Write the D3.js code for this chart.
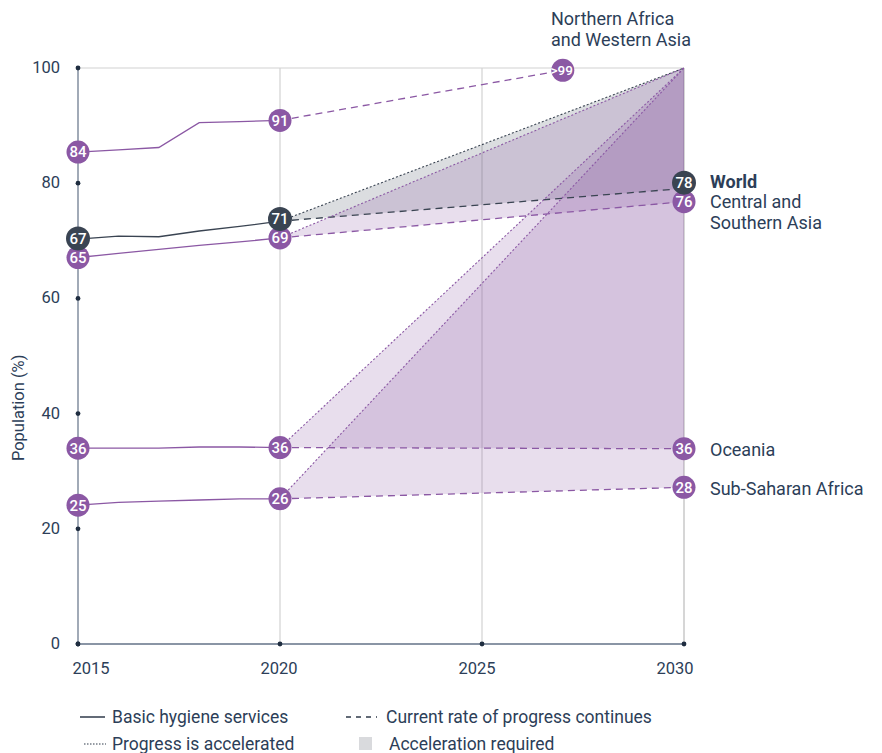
<!DOCTYPE html>
<html><head><meta charset="utf-8">
<script src="https://cdn.jsdelivr.net/npm/d3@7"></script>
<style>
body{margin:0;background:#fff;}
text{font-family:Roboto,"Noto Sans",sans-serif;}
</style></head>
<body><div id="chart"></div>
<script>
// ---------- data ----------
const years = [2015, 2016, 2017, 2018, 2019, 2020];
const world   = [70.3, 70.8, 70.7, 71.7, 72.5, 73.4];
const csAsia  = [67.1, 67.8, 68.5, 69.2, 69.8, 70.5];
const nawa    = [85.4, 85.8, 86.2, 90.5, 90.7, 90.9];
const oceania = [34.0, 34.0, 34.0, 34.2, 34.2, 34.1];
const ssa     = [24.1, 24.6, 24.8, 25.0, 25.2, 25.2];

const projYear   = [2030, 2030, 2027, 2030, 2030];      // end year of current-rate projection
const projValue  = [79.1, 76.8, 99.6, 33.9, 27.2];      // current rate of progress continues
const accelTarget = 100;                                 // accelerated target in 2030
const seriesNames = ["World", "Central and Southern Asia", "Northern Africa and Western Asia", "Oceania", "Sub-Saharan Africa"];
const labelsWorld   = ["67", "71", "78"];
const labelsCSAsia  = ["65", "69", "76"];
const labelsNAWA    = ["84", "91", ">99"];
const labelsOceania = ["36", "36", "36"];
const labelsSSA     = ["25", "26", "28"];
const xTicks = [2015, 2020, 2025, 2030];
const yTicks = [0, 20, 40, 60, 80, 100];
const legendItems = ["Basic hygiene services", "Current rate of progress continues", "Progress is accelerated", "Acceleration required"];

// ---------- setup ----------
const W = 882, H = 753;
const PURPLE = "#8b58a4", DARK = "#3a4452", TXT = "#2c3e58", GRID = "#d2d2d2";
const series = [
  {name: seriesNames[0], vals: world,   labels: labelsWorld,   color: DARK,   fill: DARK,   fo: 0.18, accel: true, r: 12},
  {name: seriesNames[1], vals: csAsia,  labels: labelsCSAsia,  color: PURPLE, fill: PURPLE, fo: 0.2,  accel: true, r: 11.5},
  {name: seriesNames[2], vals: nawa,    labels: labelsNAWA,    color: PURPLE, fill: PURPLE, fo: 0.2,  accel: false, r: 11.5},
  {name: seriesNames[3], vals: oceania, labels: labelsOceania, color: PURPLE, fill: PURPLE, fo: 0.2,  accel: true, r: 11.5},
  {name: seriesNames[4], vals: ssa,     labels: labelsSSA,     color: PURPLE, fill: PURPLE, fo: 0.2,  accel: true, r: 11.5}
];
series.forEach((s, i) => { s.pYear = projYear[i]; s.pVal = projValue[i]; });

const svg = d3.select("#chart").append("svg").attr("width", W).attr("height", H);
const x = d3.scaleLinear().domain([2015, 2030]).range([78, 684]);
const y = d3.scaleLinear().domain([0, 100]).range([644, 68]);
const last = years.length - 1;

// grid
svg.append("line").attr("x1", x(2015)).attr("x2", x(2030)).attr("y1", y(100)).attr("y2", y(100))
  .attr("stroke", GRID).attr("stroke-width", 1.2);
xTicks.slice(1).forEach(t => {
  svg.append("line").attr("x1", x(t)).attr("x2", x(t)).attr("y1", y(100)).attr("y2", y(0))
    .attr("stroke", GRID).attr("stroke-width", t === 2030 ? 1.8 : 1.2);
});

// fills (acceleration required)
const gFill = svg.append("g");
[0, 1, 3, 4].forEach(i => {
  const s = series[i];
  if (!s.accel) return;
  const pts = [[x(2020), y(s.vals[last])], [x(2030), y(accelTarget)], [x(s.pYear), y(s.pVal)]];
  gFill.append("path").attr("d", "M" + pts.join("L") + "Z").attr("fill", s.fill).attr("fill-opacity", s.fo);
});

// projection lines
const gProj = svg.append("g");
series.forEach(s => {
  gProj.append("line").attr("x1", x(2020)).attr("y1", y(s.vals[last])).attr("x2", x(s.pYear)).attr("y2", y(s.pVal))
    .attr("stroke", s.color).attr("stroke-width", 1.3).attr("stroke-dasharray", "7,5");
  if (s.accel) {
    gProj.append("line").attr("x1", x(2020)).attr("y1", y(s.vals[last])).attr("x2", x(2030)).attr("y2", y(accelTarget))
      .attr("stroke", s.color).attr("stroke-width", 1.1).attr("stroke-dasharray", "2,2");
  }
});

// historical lines
const line = d3.line().x((d, i) => x(years[i])).y(d => y(d));
series.forEach(s => {
  svg.append("path").attr("d", line(s.vals)).attr("fill", "none").attr("stroke", s.color).attr("stroke-width", 1.3);
});

// axes
const yAxisG = svg.append("g");
yAxisG.append("line").attr("x1", x(2015)).attr("x2", x(2015)).attr("y1", y(100)).attr("y2", y(0))
  .attr("stroke", "#8a95a5").attr("stroke-width", 1.6);
yTicks.forEach(t => {
  yAxisG.append("circle").attr("cx", x(2015)).attr("cy", y(t)).attr("r", 2.4).attr("fill", "#1f2d40");
  yAxisG.append("text").attr("x", 60).attr("y", y(t)).attr("dy", "0.3em").attr("text-anchor", "end")
    .attr("font-size", 16.5).attr("fill", TXT).text(t);
});
const xAxisG = svg.append("g");
xAxisG.append("line").attr("x1", x(2015)).attr("x2", x(2030)).attr("y1", y(0)).attr("y2", y(0))
  .attr("stroke", "#8a95a5").attr("stroke-width", 2.2);
const xShift = [13, -1, -5, -9];
xTicks.forEach((t, i) => {
  xAxisG.append("circle").attr("cx", x(t)).attr("cy", y(0)).attr("r", 2.4).attr("fill", "#1f2d40");
  xAxisG.append("text").attr("x", x(t) + xShift[i]).attr("y", 674).attr("text-anchor", "middle")
    .attr("font-size", 16.5).attr("fill", TXT).text(t);
});
svg.append("text").attr("transform", `translate(24,${y(41)}) rotate(-90)`).attr("text-anchor", "middle")
  .attr("font-size", 16.5).attr("fill", TXT).text("Population (%)");

// value circles with simple vertical dodging
const marks = [];
series.forEach(s => {
  [[2015, s.vals[0], s.labels[0]], [2020, s.vals[last], s.labels[1]], [s.pYear, s.pVal, s.labels[2]]]
    .forEach(([yr, v, lab]) => marks.push({s, cx: x(yr), cy: y(v), lab}));
});
const groups = d3.group(marks, m => Math.round(m.cx));
groups.forEach(g => {
  g.sort((a, b) => b.cy - a.cy);
  for (let k = 1; k < g.length; k++) {
    if (g[k - 1].cy - g[k].cy < 19) g[k].cy = g[k - 1].cy - 19;
  }
});
const gMarks = svg.append("g");
marks.sort((a, b) => (a.s.color === DARK) - (b.s.color === DARK));
marks.forEach(m => {
  const wide = m.lab.startsWith(">");
  gMarks.append("circle").attr("cx", m.cx).attr("cy", m.cy).attr("r", m.s.r).attr("fill", m.s.color);
  gMarks.append("text").attr("x", m.cx - (wide ? 1 : 0)).attr("y", m.cy).attr("dy", "0.36em")
    .attr("text-anchor", "middle").attr("font-size", wide ? 13.5 : 15).attr("font-weight", 500)
    .attr("fill", "#fff").text(m.lab);
});

// series labels
const endMark = name => marks.find(m => m.s.name === name && Math.round(m.cx) === Math.round(x(2030)));
const lab = (txt, xx, yy, bold) => svg.append("text").attr("x", xx).attr("y", yy).attr("dy", "0.35em")
  .attr("font-size", 18).attr("font-weight", bold ? 700 : 400).attr("fill", TXT).text(txt);
lab("World", 710, endMark(seriesNames[0]).cy - 1, true);
lab("Central and", 710, endMark(seriesNames[1]).cy, false);
lab("Southern Asia", 710, endMark(seriesNames[1]).cy + 21, false);
lab("Oceania", 710, endMark(seriesNames[3]).cy + 1, false);
lab("Sub-Saharan Africa", 710, endMark(seriesNames[4]).cy + 1, false);
lab("Northern Africa", 551, 19, false);
lab("and Western Asia", 551, 40, false);

// legend
const lg = svg.append("g");
const LC = "#2f3a4a";
lg.append("line").attr("x1", 80).attr("x2", 105).attr("y1", 717).attr("y2", 717).attr("stroke", LC).attr("stroke-width", 1.5);
lg.append("line").attr("x1", 346).attr("x2", 377).attr("y1", 717).attr("y2", 717).attr("stroke", LC).attr("stroke-width", 1.5).attr("stroke-dasharray", "5,5");
lg.append("line").attr("x1", 84).attr("x2", 106).attr("y1", 744).attr("y2", 744).attr("stroke", LC).attr("stroke-width", 1.2).attr("stroke-dasharray", "1.5,1.5");
lg.append("rect").attr("x", 359).attr("y", 737).attr("width", 13).attr("height", 13).attr("fill", "#d9dadd");
[[112, 717, 0], [386, 717, 1], [112, 744, 2], [389, 744, 3]].forEach(([xx, yy, i]) => {
  lg.append("text").attr("x", xx).attr("y", yy).attr("dy", "0.35em").attr("font-size", 17.5).attr("fill", TXT).text(legendItems[i]);
});
</script></body></html>
